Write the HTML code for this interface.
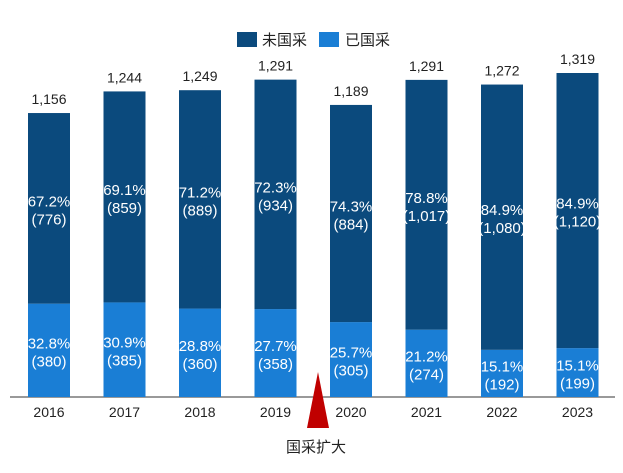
<!DOCTYPE html>
<html><head><meta charset="utf-8"><style>
body{margin:0;background:#fff}
svg{display:block;font-family:"Liberation Sans","Noto Sans CJK SC",sans-serif}
</style></head><body>
<svg id="c" width="623" height="473">
<g>
<rect x="237" y="32" width="20" height="15" fill="#0b4a7d"/>
<text x="262" y="45" font-size="15" fill="#222">未国采</text>
<rect x="319" y="32" width="20" height="15" fill="#1a7ed5"/>
<text x="345" y="45" font-size="15" fill="#222">已国采</text>
</g>
<line x1="10" y1="397" x2="615" y2="397" stroke="#333" stroke-width="1"/>
<polygon points="318,372 307,428 329,428" fill="#c00000"/>
<text x="316" y="452" font-size="15" text-anchor="middle" fill="#222">国采扩大</text>
</svg>
<script>
const years=["2016","2017","2018","2019","2020","2021","2022","2023"];
const totals=[1156,1244,1249,1291,1189,1291,1272,1319];
const procured=[380,385,360,358,305,274,192,199];
const unprocured=[776,859,889,934,884,1017,1080,1120];
const procPct=["32.8%","30.9%","28.8%","27.7%","25.7%","21.2%","15.1%","15.1%"];
const unprocPct=["67.2%","69.1%","71.2%","72.3%","74.3%","78.8%","84.9%","84.9%"];
const svg=document.getElementById('c');
const NS="http://www.w3.org/2000/svg";
const base=397, k=324/1319, x0=49, step=75.5, bw=42;
const y=v=>base-v*k;
const xc=i=>x0+i*step;
const fmt=n=>n.toLocaleString('en-US');
function mk(tag,attrs,txt){const e=document.createElementNS(NS,tag);for(const a in attrs)e.setAttribute(a,attrs[a]);if(txt!==undefined)e.textContent=txt;svg.appendChild(e);return e;}
years.forEach((yr,i)=>{
  const cx=xc(i), pTop=y(procured[i]), tTop=y(procured[i]+unprocured[i]);
  let r=mk('rect',{x:cx-bw/2,y:pTop,width:bw,height:base-pTop,fill:'#1a7ed5'});
  
  
  r=mk('rect',{x:cx-bw/2,y:tTop,width:bw,height:pTop-tTop,fill:'#0b4a7d'});
  
  
  let t=mk('text',{x:cx,y:tTop-9,'font-size':14,'text-anchor':'middle',fill:'#222'},fmt(totals[i]));
  
  
  const um=(pTop+tTop)/2;
  t=mk('text',{x:cx,y:um-2,'font-size':15,'text-anchor':'middle',fill:'#fff'},unprocPct[i]);
  
  
  t=mk('text',{x:cx,y:um+16,'font-size':15,'text-anchor':'middle',fill:'#fff'},'('+fmt(unprocured[i])+')');
  
  
  const pm=(pTop+base)/2;
  t=mk('text',{x:cx,y:pm-2,'font-size':15,'text-anchor':'middle',fill:'#fff'},procPct[i]);
  
  
  t=mk('text',{x:cx,y:pm+16,'font-size':15,'text-anchor':'middle',fill:'#fff'},'('+fmt(procured[i])+')');
  
  
  t=mk('text',{x:cx,y:417,'font-size':14,'text-anchor':'middle',fill:'#222'},yr);
  
  
});
</script>
</body></html>
